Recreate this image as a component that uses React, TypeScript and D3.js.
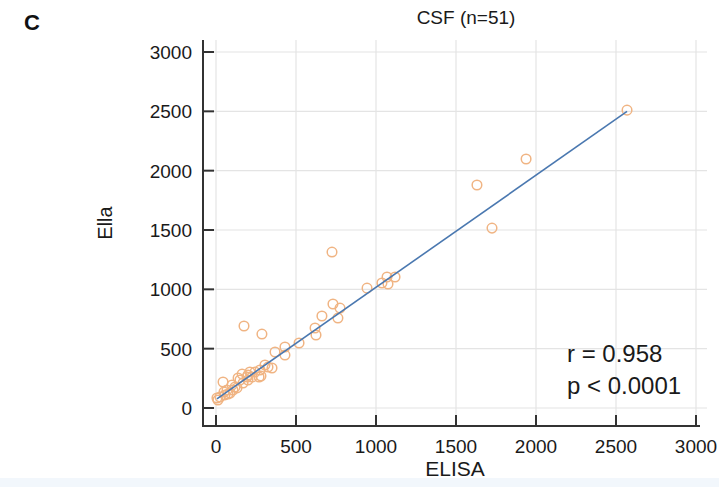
import React from 'react';
import * as d3 from 'd3';

// ELISA vs Ella, CSF samples
const elisa = [
  2569, 1938, 1631, 1725, 725, 944, 1037, 1069, 1075, 1119,
  731, 775, 762, 662, 619, 625, 175, 287, 519, 431,
  431, 369, 306, 325, 275, 269, 200, 200, 138, 169,
  131, 100, 106, 44, 56, 69, 6, 12, 150, 194,
  225, 244, 281, 119, 88, 163, 212, 75, 50, 25, 350,
];
const ella = [
  2510, 2098, 1879, 1516, 1314, 1010, 1053, 1104, 1045, 1104,
  876, 842, 758, 775, 674, 615, 691, 623, 548, 514,
  446, 472, 362, 345, 320, 261, 278, 236, 253, 211,
  169, 194, 152, 219, 110, 152, 84, 67, 236, 261,
  261, 303, 270, 177, 126, 286, 303, 118, 135, 93, 337,
];
const xTicks = [0, 500, 1000, 1500, 2000, 2500, 3000];
const yTicks = [0, 500, 1000, 1500, 2000, 2500, 3000];
const fitSlope = 0.945;
const fitIntercept = 72;
const statLines = ['r = 0.958', 'p < 0.0001'];

const App = () => {
  const width = 719;
  const height = 487;
  const font = '"Liberation Sans", Arial, sans-serif';

  const x = d3.scaleLinear().domain([0, 3000]).range([216, 696]);
  const y = d3.scaleLinear().domain([0, 3000]).range([408, 52]);

  const axisX = 203;
  const axisY = 426;

  const xMin = d3.min(elisa) as number;
  const xMax = d3.max(elisa) as number;
  const fit = d3.line<number>()
    .x(d => x(d))
    .y(d => y(fitIntercept + fitSlope * d));

  return (
    <svg width={width} height={height}
         style={{position: 'absolute', left: 0, top: 0, background: '#fff'}}
         fontFamily={font}>
      <rect x={0} y={478} width={width} height={height - 478} fill="#f2f7fc" />

      <text x={24} y={30} fontSize={22} fontWeight="bold" fill="#111">C</text>
      <text x={466} y={24} fontSize={19} textAnchor="middle" fill="#1a1a1a">CSF (n=51)</text>

      {/* grid */}
      {yTicks.map(t => (
        <line key={'gy' + t} x1={214} x2={707} y1={y(t)} y2={y(t)} stroke="#e4e4e4" strokeWidth={1.2} />
      ))}
      {xTicks.map(t => (
        <line key={'gx' + t} x1={x(t)} x2={x(t)} y1={40} y2={415} stroke="#e4e4e4" strokeWidth={1.2} />
      ))}

      {/* axes */}
      <line x1={axisX} x2={axisX} y1={40} y2={axisY + 1} stroke="#333" strokeWidth={2} />
      <line x1={axisX - 1} x2={700} y1={axisY} y2={axisY} stroke="#333" strokeWidth={2} />
      {yTicks.map(t => (
        <g key={'ty' + t}>
          <line x1={axisX} x2={214} y1={y(t)} y2={y(t)} stroke="#333" strokeWidth={2} />
          <text x={192} y={y(t)} dy="0.36em" fontSize={19} textAnchor="end" fill="#1a1a1a">{t}</text>
        </g>
      ))}
      {xTicks.map(t => (
        <g key={'tx' + t}>
          <line x1={x(t)} x2={x(t)} y1={axisY} y2={415} stroke="#333" strokeWidth={2} />
          <text x={x(t)} y={453} fontSize={19} textAnchor="middle" fill="#1a1a1a">{t}</text>
        </g>
      ))}

      <text x={455} y={476} fontSize={21} textAnchor="middle" fill="#1a1a1a">ELISA</text>
      <text transform={`translate(112,223) rotate(-90)`} fontSize={20} textAnchor="middle" fill="#1a1a1a">Ella</text>

      {/* points */}
      {elisa.map((v, i) => (
        <circle key={i} cx={x(v)} cy={y(ella[i])} r={4.8}
                fill="none" stroke="#f0b483" strokeWidth={1.5} />
      ))}

      <path d={fit([xMin, xMax]) as string} fill="none" stroke="#4a78b0" strokeWidth={1.6} />

      {statLines.map((s, i) => (
        <text key={s} x={567} y={362 + i * 32} fontSize={24} fill="#1a1a1a">{s}</text>
      ))}
    </svg>
  );
};

export default App;
